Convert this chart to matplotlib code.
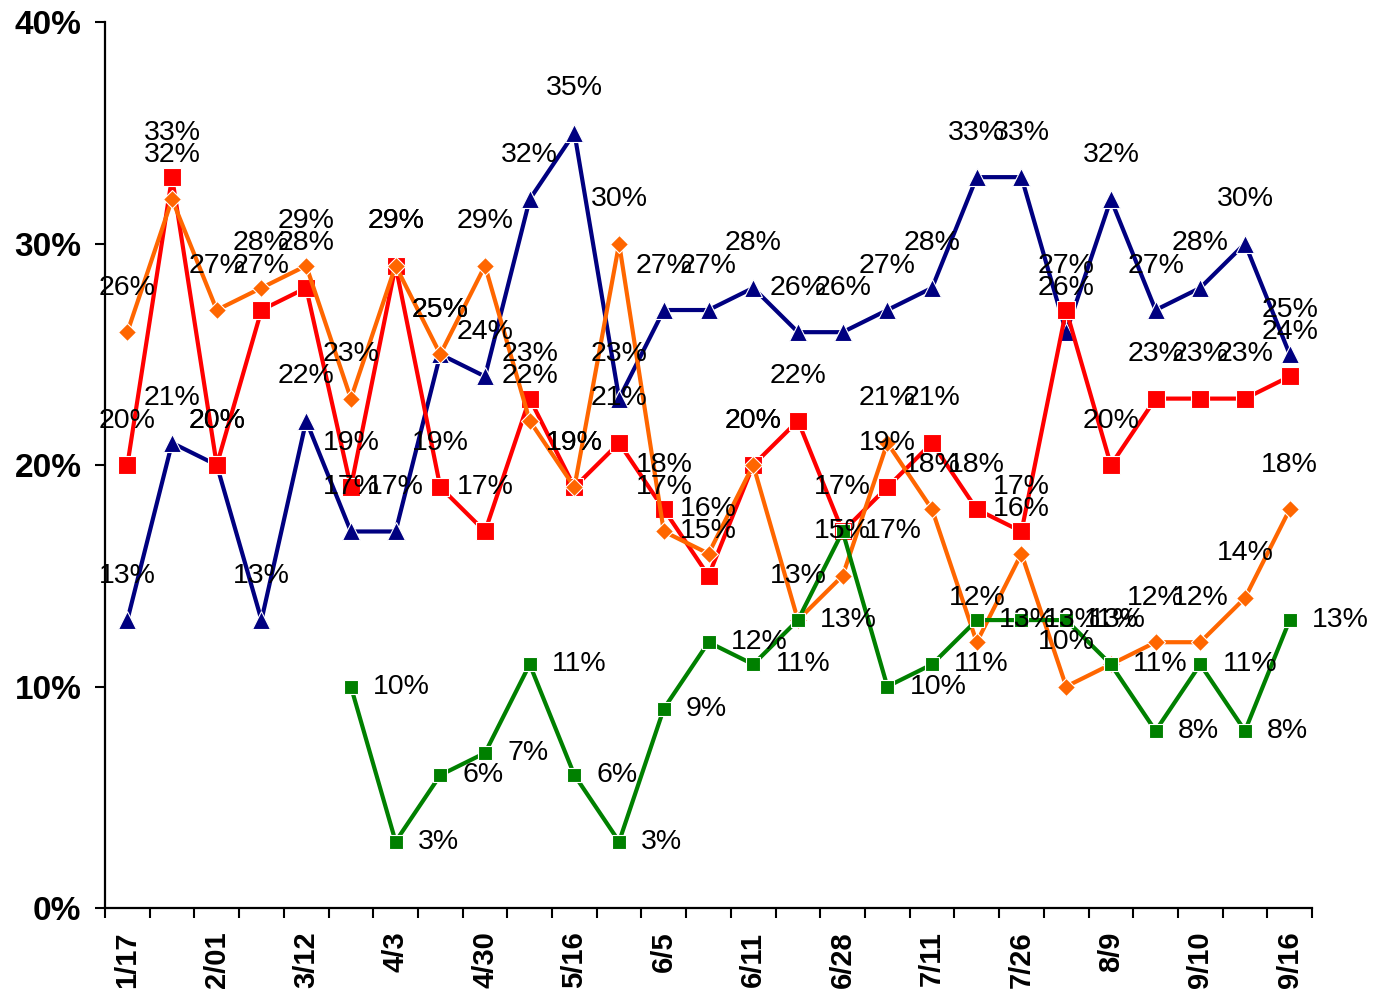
import matplotlib
matplotlib.use('Agg')
import matplotlib.pyplot as plt
from matplotlib.ticker import FixedLocator, PercentFormatter

plt.rcParams['font.family'] = ['Liberation Sans', 'DejaVu Sans']

# Даты опросов (подписи стоят только у каждой второй точки)
dates = ['1/17', '', '2/01', '', '3/12', '', '4/3', '', '4/30', '', '5/16', '',
         '6/5', '', '6/11', '', '6/28', '', '7/11', '', '7/26', '', '8/9', '',
         '9/10', '', '9/16']

blue = [13, 21, 20, 13, 22, 17, 17, 25, 24, 32, 35, 23, 27, 27, 28, 26, 26,
        27, 28, 33, 33, 26, 32, 27, 28, 30, 25]
red = [20, 33, 20, 27, 28, 19, 29, 19, 17, 23, 19, 21, 18, 15, 20, 22, 17,
       19, 21, 18, 17, 27, 20, 23, 23, 23, 24]
orange = [26, 32, 27, 28, 29, 23, 29, 25, 29, 22, 19, 30, 17, 16, 20, 13, 15,
          21, 18, 12, 16, 10, 11, 12, 12, 14, 18]
# зелёная серия начинается с шестой точки
green_start = 5
green = [10, 3, 6, 7, 11, 6, 3, 9, 12, 11, 13, 17, 10, 11, 13, 13, 13, 11,
         8, 11, 8, 13]

fig = plt.figure(figsize=(13.89, 9.92), dpi=100)
ax = fig.add_axes([0.0756, 0.0847, 0.869, 0.893])

x_all = list(range(len(dates)))
x_green = list(range(green_start, green_start + len(green)))

series = [
    (x_all, blue, '#000080', '^', 13, 'above'),
    (x_all, red, '#FF0000', 's', 12.5, 'above'),
    (x_all, orange, '#FF6600', 'D', 9.5, 'above'),
    (x_green, green, '#008000', 's', 10.5, 'right'),
]

for xs, vals, col, mk, ms, pos in series:
    ys = [v / 100 for v in vals]
    ax.plot(xs, ys, color=col, lw=3, marker=mk, markersize=ms,
            markerfacecolor=col, markeredgecolor='white', markeredgewidth=0.8,
            zorder=2)

# подписи значений поверх всех линий
for xs, vals, col, mk, ms, pos in series:
    for xi, v in zip(xs, vals):
        if pos == 'above':
            ax.annotate(f'{v}%', (xi, v / 100), xytext=(0, 32),
                        textcoords='offset points', ha='center', va='center',
                        fontsize=20.5, color='black', zorder=5)
        else:
            ax.annotate(f'{v}%', (xi, v / 100), xytext=(16, 0),
                        textcoords='offset points', ha='left', va='center',
                        fontsize=20.5, color='black', zorder=5)

ax.set_xlim(-0.5, len(dates) - 0.5)
ax.set_ylim(0, 0.4)
ax.set_yticks([0, 0.1, 0.2, 0.3, 0.4])
ax.yaxis.set_major_formatter(PercentFormatter(1.0, decimals=0))

lab_pos = [i for i, d in enumerate(dates) if d]
ax.xaxis.set_major_locator(FixedLocator(lab_pos))
ax.set_xticklabels([dates[i] for i in lab_pos], rotation=90, fontsize=21,
                   fontweight='bold', va='top', ha='center')
ax.xaxis.set_minor_locator(FixedLocator([i - 0.5 for i in range(len(dates) + 1)]))
ax.tick_params(axis='x', which='major', length=0, pad=17)
ax.tick_params(axis='x', which='minor', length=7, width=1.5, direction='out')
ax.tick_params(axis='y', length=7, width=1.5, direction='out', pad=10)
for t in ax.get_yticklabels():
    t.set_fontsize(24)
    t.set_fontweight('bold')

for s in ['top', 'right']:
    ax.spines[s].set_visible(False)
for s in ['left', 'bottom']:
    ax.spines[s].set_linewidth(1.6)

fig.savefig('out.png', dpi=100)
